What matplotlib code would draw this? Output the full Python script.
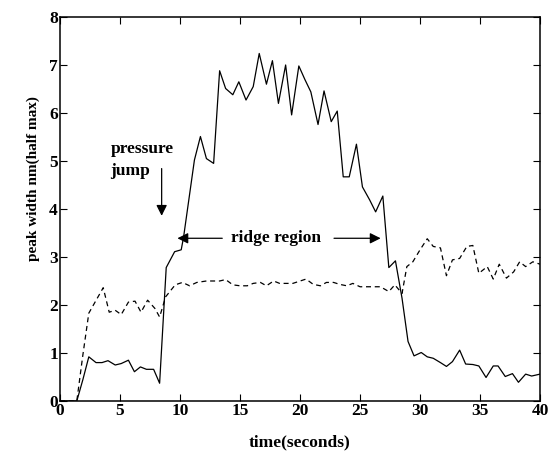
import matplotlib.pyplot as plt

# solid curve: peak width vs time
solidTime = [0.0, 1.4, 1.9, 2.4, 3.0, 3.5, 4.0, 4.6, 5.1, 5.7, 6.2, 6.7, 7.2, 7.8, 8.3,
             8.85, 9.55, 10.1, 10.3, 11.2, 11.7, 12.2, 12.8, 13.3, 13.8, 14.4, 14.9, 15.5,
             16.1, 16.6, 17.2, 17.7, 18.2, 18.8, 19.3, 19.9, 20.4, 20.9, 21.5, 22.0, 22.6,
             23.1, 23.6, 24.1, 24.7, 25.2, 25.8, 26.3, 26.9, 27.4, 27.95, 28.5, 29.0, 29.5,
             30.1, 30.6, 31.1, 31.7, 32.2, 32.7, 33.3, 33.8, 34.4, 34.9, 35.5, 36.1, 36.5,
             37.1, 37.7, 38.2, 38.8, 39.3, 40.0]
solidWidth = [0.0, 0.0, 0.44, 0.92, 0.80, 0.80, 0.84, 0.75, 0.78, 0.85, 0.61, 0.71, 0.66, 0.66, 0.37,
              2.78, 3.11, 3.15, 3.42, 5.02, 5.51, 5.05, 4.95, 6.88, 6.51, 6.38, 6.65, 6.27,
              6.55, 7.24, 6.60, 7.09, 6.20, 7.00, 5.96, 6.98, 6.70, 6.44, 5.76, 6.46, 5.82,
              6.04, 4.67, 4.67, 5.35, 4.46, 4.19, 3.94, 4.27, 2.78, 2.92, 2.14, 1.24, 0.94,
              1.01, 0.92, 0.89, 0.80, 0.72, 0.82, 1.06, 0.77, 0.76, 0.73, 0.49, 0.73, 0.73,
              0.51, 0.57, 0.39, 0.56, 0.52, 0.56]

# dashed curve
dashTime = [0.0, 1.4, 1.9, 2.4, 3.6, 4.1, 4.6, 5.1, 5.7, 6.25, 6.75, 7.3, 7.9, 8.3,
            8.8, 9.6, 10.2, 10.8, 11.4, 12.2, 13.3, 13.8, 14.4, 15.0, 15.6, 16.1, 16.7,
            17.2, 17.8, 18.3, 19.4, 20.5, 21.1, 21.7, 22.2, 22.8, 23.3, 23.9, 24.4, 25.0,
            25.6, 26.1, 26.7, 27.4, 27.9, 28.5, 28.9, 29.4, 30.0, 30.6, 31.1, 31.7, 32.2,
            32.7, 33.3, 33.9, 34.4, 34.9, 35.6, 36.1, 36.6, 37.2, 37.8, 38.3, 38.8, 39.4, 40.0]
dashWidth = [0.0, 0.0, 0.95, 1.83, 2.36, 1.85, 1.89, 1.80, 2.06, 2.08, 1.85, 2.10, 1.93, 1.75,
             2.17, 2.42, 2.47, 2.40, 2.47, 2.50, 2.50, 2.53, 2.42, 2.40, 2.40, 2.45, 2.47,
             2.40, 2.50, 2.45, 2.45, 2.54, 2.43, 2.40, 2.47, 2.47, 2.43, 2.40, 2.45, 2.38,
             2.38, 2.38, 2.38, 2.28, 2.42, 2.24, 2.80, 2.90, 3.15, 3.38, 3.22, 3.19, 2.61,
             2.94, 2.97, 3.22, 3.24, 2.66, 2.80, 2.54, 2.85, 2.56, 2.69, 2.90, 2.80, 2.90, 2.85]

xTicks = [0, 5, 10, 15, 20, 25, 30, 35, 40]
yTicks = [0, 1, 2, 3, 4, 5, 6, 7, 8]

plt.rcParams['font.family'] = ['Liberation Serif', 'DejaVu Serif']
plt.rcParams['font.weight'] = 'bold'
plt.rcParams['font.size'] = 12.5

fig = plt.figure(figsize=(5.48, 4.53), dpi=100)
ax = fig.add_axes([0.1095, 0.1148, 0.876, 0.8477])

ax.plot(solidTime, solidWidth, color='black', linewidth=0.9)
ax.plot(dashTime, dashWidth, color='black', linewidth=0.9, dashes=(4, 3))

ax.set_xlim(0, 40)
ax.set_ylim(0, 8)
ax.set_xticks(xTicks)
ax.set_yticks(yTicks)
ax.tick_params(direction='in', top=True, right=True, length=5, width=0.8, pad=1.5)
for s in ax.spines.values():
    s.set_linewidth(1.1)

ax.set_xlabel('time(seconds)', fontweight='bold', labelpad=11)
ax.set_ylabel('peak width nm(half max)', fontweight='bold', fontsize=11)
ax.yaxis.set_label_coords(-0.042, 0.58)

# annotations
ax.text(4.2, 5.25, 'pressure', fontweight='bold', va='center', ha='left')
ax.text(4.2, 4.8, 'jump', fontweight='bold', va='center', ha='left')
ax.annotate('', xy=(8.47, 3.8), xytext=(8.47, 4.9),
            arrowprops=dict(arrowstyle='-|>', color='black', lw=0.9, mutation_scale=16))
ax.text(18.0, 3.39, 'ridge region', fontweight='bold', va='center', ha='center')
ax.annotate('', xy=(9.55, 3.39), xytext=(13.75, 3.39),
            arrowprops=dict(arrowstyle='-|>', color='black', lw=0.9, mutation_scale=16))
ax.annotate('', xy=(26.95, 3.39), xytext=(22.6, 3.39),
            arrowprops=dict(arrowstyle='-|>', color='black', lw=0.9, mutation_scale=16))

fig.savefig('out.png', dpi=100)
